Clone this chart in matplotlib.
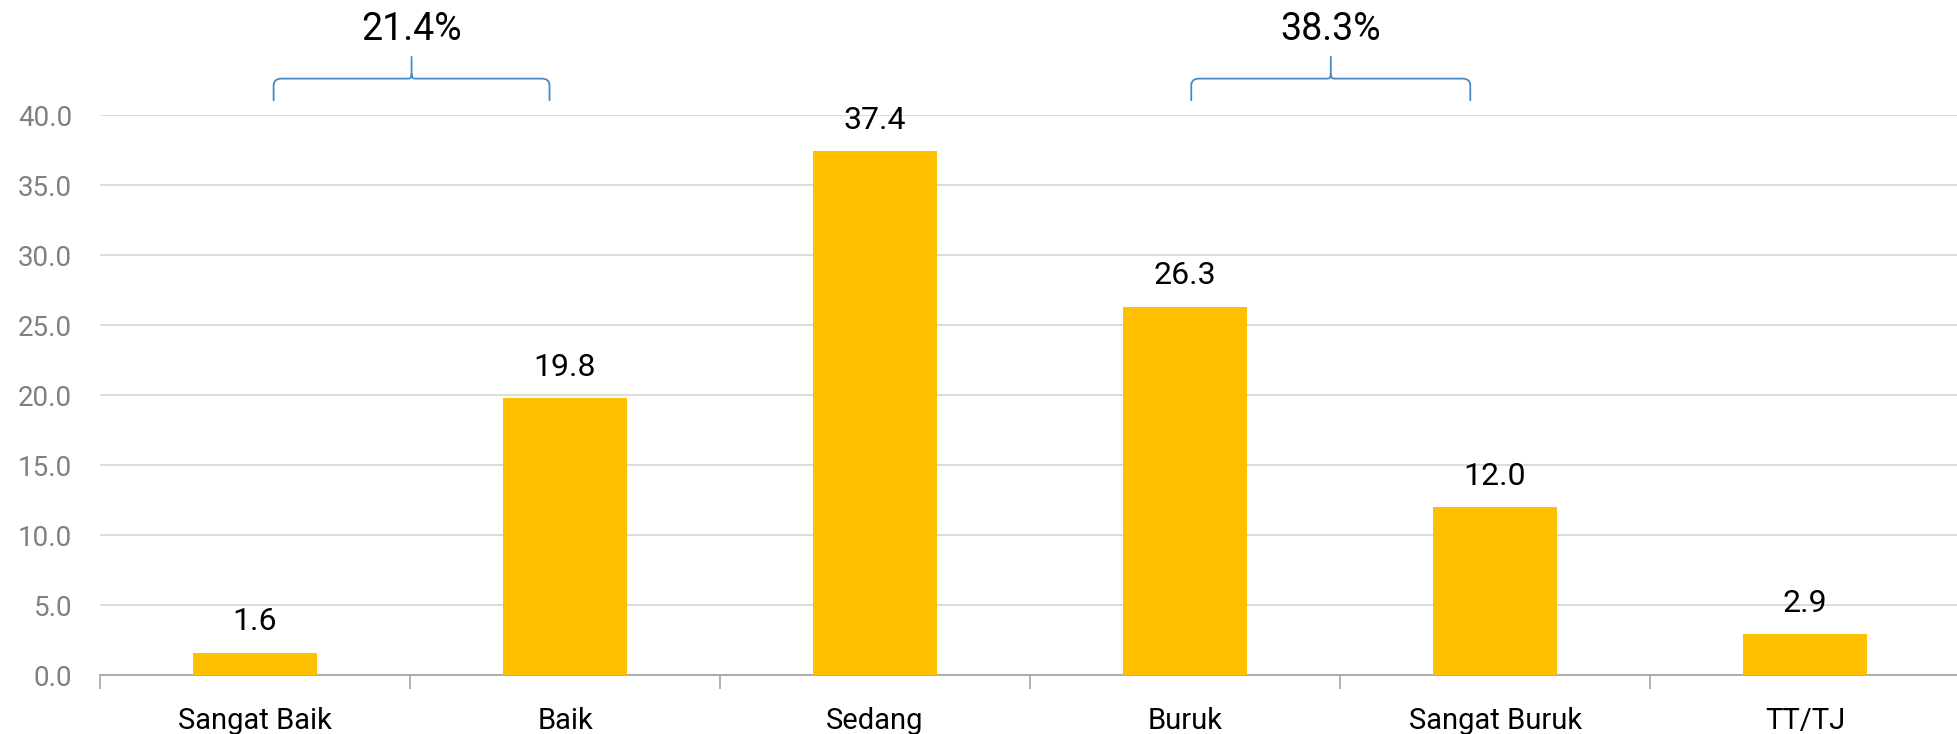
import matplotlib
matplotlib.use("Agg")
import matplotlib.pyplot as plt
from matplotlib.path import Path
from matplotlib.patches import PathPatch

categories = ["Sangat Baik", "Baik", "Sedang", "Buruk", "Sangat Buruk", "TT/TJ"]
values = [1.6, 19.8, 37.4, 26.3, 12.0, 2.9]
group_labels = ["21.4%", "38.3%"]
group_spans = [(0.06, 0.95), (3.02, 3.92)]
yticks = [0, 5, 10, 15, 20, 25, 30, 35, 40]

plt.rcParams['font.family'] = ['Roboto', 'DejaVu Sans']

W, H, DPI = 1957, 734, 100
fig = plt.figure(figsize=(W / DPI, H / DPI), dpi=DPI)
ax = fig.add_axes([100 / W, (H - 675) / H, 1 - 100 / W, (675 - 115) / H])

x = list(range(len(categories)))
ax.bar(x, values, width=0.4, color="#FFC000", zorder=3)

ax.set_xlim(-0.5, 5.49)
ax.set_ylim(0, 40)
ax.set_yticks(yticks)
ax.set_yticklabels([f"{v:.1f}" for v in yticks])
ax.tick_params(axis="y", length=0, pad=20, labelsize=20, labelcolor="#808080")
ax.yaxis.grid(True, color="#D9D9D9", linewidth=1.3, zorder=0)
ax.set_axisbelow(True)

ax.set_xticks(x)
ax.set_xticklabels(categories)
ax.tick_params(axis="x", which="major", length=0, pad=23, labelsize=21, labelcolor="black")
ax.set_xticks([i - 0.5 for i in range(len(categories))], minor=True)
ax.tick_params(axis="x", which="minor", length=10, width=1.2, color="#A6A6A6")

for s in ["top", "right", "left"]:
    ax.spines[s].set_visible(False)
ax.spines["bottom"].set_color("#A6A6A6")
ax.spines["bottom"].set_linewidth(1.3)

for xi, v in zip(x, values):
    ax.text(xi, v + 2.2, f"{v:.1f}", ha="center", va="center", fontsize=23, color="black")

# braces
yb, yh, yt = 41.0, 42.6, 44.2
rx, ry = 0.025, 0.5
for (x0, x1), lab in zip(group_spans, group_labels):
    xm = (x0 + x1) / 2
    verts = [
        (x0, yb), (x0, yh - ry), (x0, yh), (x0 + rx, yh),
        (xm - rx * 0.4, yh), (xm, yh), (xm, yh + ry * 0.7), (xm, yt),
        (xm, yh + ry * 0.7), (xm, yh), (xm + rx * 0.4, yh),
        (x1 - rx, yh), (x1, yh), (x1, yh - ry), (x1, yb),
    ]
    codes = [Path.MOVETO, Path.LINETO, Path.CURVE3, Path.CURVE3,
             Path.LINETO, Path.CURVE3, Path.CURVE3, Path.LINETO,
             Path.MOVETO, Path.CURVE3, Path.CURVE3,
             Path.LINETO, Path.CURVE3, Path.CURVE3, Path.LINETO]
    patch = PathPatch(Path(verts, codes), facecolor="none", edgecolor="#4A8AC0",
                      linewidth=1.3, clip_on=False)
    ax.add_patch(patch)
    ax.text(xm, 46.1, lab, ha="center", va="center", fontsize=27, color="black", clip_on=False)

fig.savefig("out.png", dpi=DPI)
